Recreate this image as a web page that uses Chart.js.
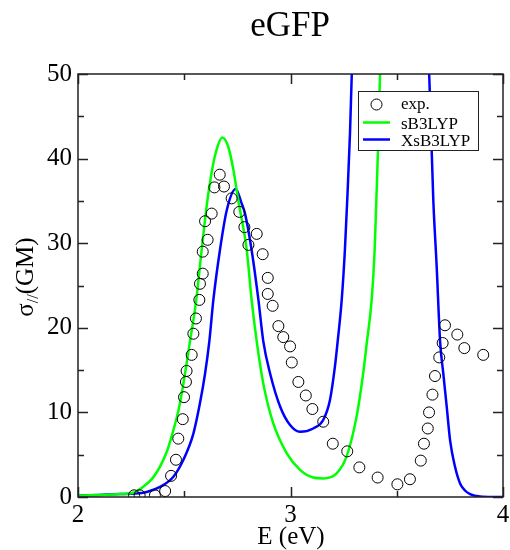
<!DOCTYPE html>
<html>
<head>
<meta charset="utf-8">
<script src="https://cdn.jsdelivr.net/npm/chart.js@4.4.1/dist/chart.umd.min.js"></script>
<style>
  html, body { margin: 0; padding: 0; background: #fff; }
  #wrap { width: 510px; height: 550px; }
</style>
</head>
<body>
<div id="wrap"><canvas id="c" width="510" height="550"></canvas></div>
<script>
// experimental points (E in eV, sigma in GM)
const expE = [2.264, 2.29, 2.362, 2.41, 2.438, 2.461, 2.472, 2.493, 2.499, 2.508, 2.511, 2.535,
  2.543, 2.555, 2.571, 2.574, 2.587, 2.587, 2.598, 2.610, 2.629, 2.642, 2.667, 2.687, 2.723,
  2.759, 2.783, 2.802, 2.841, 2.869, 2.893, 2.893, 2.916, 2.943, 2.966, 2.998, 3.006, 3.037,
  3.072, 3.103, 3.154, 3.199, 3.267, 3.324, 3.410, 3.503, 3.562, 3.613, 3.628, 3.646, 3.652,
  3.668, 3.680, 3.700, 3.716, 3.727, 3.785, 3.818, 3.907];
const expS = [0.2, 0.2, 0.2, 0.7, 2.5, 4.4, 6.9, 9.2, 11.8, 13.6, 14.9, 16.8,
  19.3, 21.1, 23.3, 25.2, 26.4, 29.0, 32.6, 30.4, 33.5, 36.6, 38.1, 36.7, 35.3,
  33.7, 31.9, 29.8, 31.1, 28.7, 25.9, 24.0, 22.6, 20.2, 18.9, 17.8, 15.9, 13.6,
  12.0, 10.4, 8.9, 6.3, 5.4, 3.5, 2.3, 1.5, 2.1, 4.3, 6.3, 8.1, 10.0,
  12.1, 14.3, 16.5, 18.2, 20.3, 19.2, 17.6, 16.8];

// sB3LYP curve
const sE = [2.0, 2.1, 2.2, 2.26, 2.307, 2.35, 2.386, 2.42, 2.449, 2.475, 2.496, 2.527, 2.555,
  2.582, 2.606, 2.632, 2.655, 2.679, 2.707, 2.731, 2.754, 2.794, 2.817, 2.841, 2.872, 2.919,
  2.982, 3.045, 3.107, 3.154, 3.217, 3.264, 3.311, 3.342, 3.358, 3.382, 3.396, 3.404, 3.413,
  3.421, 3.43, 3.45, 3.5, 3.6, 3.7, 3.8, 3.9, 4.0];
const sS = [0.15, 0.25, 0.35, 0.5, 1.2, 2.2, 3.6, 5.5, 7.9, 10.5, 13.4, 18.4, 23.0,
  29.2, 34.5, 38.8, 41.3, 42.5, 41.4, 38.7, 35.1, 29.2, 23.3, 18.4, 13.4, 8.7,
  5.2, 3.2, 2.3, 2.2, 2.8, 4.8, 9.5, 14.6, 18.0, 23.3, 29.2, 35.1, 42.0,
  49.7, 58, 75, 110, 150, 150, 130, 110, 90];

// XsB3LYP curve
const xsE = [2.0, 2.1, 2.2, 2.27, 2.323, 2.386, 2.449, 2.496, 2.543, 2.574, 2.598, 2.618, 2.637,
  2.668, 2.700, 2.742, 2.770, 2.786, 2.817, 2.849, 2.872, 2.904, 2.951, 2.998, 3.045, 3.107,
  3.154, 3.186, 3.209, 3.222, 3.241, 3.256, 3.267, 3.280, 3.288, 3.30, 3.35, 3.45, 3.55,
  3.62, 3.653, 3.672, 3.688, 3.704, 3.719, 3.735, 3.751, 3.774, 3.798, 3.82, 3.845, 3.892,
  3.95, 4.0];
const xsS = [0.15, 0.25, 0.35, 0.4, 0.6, 1.2, 2.4, 4.4, 7.5, 11.1, 14.6, 18.4, 23.3,
  29.2, 33.9, 36.4, 34.7, 33.5, 29.2, 23.3, 18.4, 14.6, 10.7, 8.5, 7.7, 8.1,
  9.1, 11.5, 15.4, 18.4, 23.3, 29.2, 35.1, 43.0, 49.7, 58, 85, 110, 95,
  65, 49.7, 35.1, 27.2, 18.4, 14.6, 10.7, 6.7, 3.6, 1.6, 0.8, 0.35, 0.05,
  0, 0];

const yTicks = [0, 10, 20, 30, 40, 50];
const xTicks = [2, 3, 4];

const SERIF = "'Liberation Serif', 'Times New Roman', serif";
const FRAME = '#222';

function pts(xs, ys) {
  return xs.map((x, i) => ({ x: x, y: ys[i] }));
}

// frame, inner ticks, title, axis titles and legend
const decorations = {
  id: 'decorations',
  afterDraw(chart) {
    const ctx = chart.ctx;
    const a = chart.chartArea;
    const xs = chart.scales.x;
    const ys = chart.scales.y;
    ctx.save();
    ctx.strokeStyle = FRAME;
    ctx.lineWidth = 1.5;
    ctx.strokeRect(a.left, a.top, a.right - a.left, a.bottom - a.top);

    // ticks, pointing inward on all four sides
    ctx.beginPath();
    for (let v = 2; v <= 4.001; v += 0.5) {
      const px = Math.round(xs.getPixelForValue(v)) + 0.5;
      const len = Math.abs(v - Math.round(v)) < 0.01 ? 10 : 6;
      ctx.moveTo(px, a.bottom); ctx.lineTo(px, a.bottom - len);
      ctx.moveTo(px, a.top); ctx.lineTo(px, a.top + len);
    }
    for (let v = 0; v <= 50; v += 5) {
      const py = Math.round(ys.getPixelForValue(v)) + 0.5;
      const len = v % 10 === 0 ? 10 : 6;
      ctx.moveTo(a.left, py); ctx.lineTo(a.left + len, py);
      ctx.moveTo(a.right, py); ctx.lineTo(a.right - len, py);
    }
    ctx.stroke();

    // title
    ctx.fillStyle = '#000';
    ctx.font = '35px ' + SERIF;
    ctx.textAlign = 'center';
    ctx.textBaseline = 'alphabetic';
    ctx.fillText('eGFP', 290, 36);

    // x axis title
    ctx.font = '25px ' + SERIF;
    ctx.fillText('E (eV)', 291, 544);

    // y axis title with subscript
    ctx.save();
    ctx.translate(33, 277);
    ctx.rotate(-Math.PI / 2);
    ctx.textAlign = 'left';
    const big = '25px ' + SERIF;
    const small = '16px ' + SERIF;
    ctx.font = big;
    const w1 = ctx.measureText('\u03c3').width;
    const w3 = ctx.measureText('(GM)').width;
    ctx.font = small;
    const w2 = ctx.measureText('//').width;
    let x0 = -(w1 + w2 + w3) / 2;
    ctx.font = big;
    ctx.fillText('\u03c3', x0, 0);
    ctx.font = small;
    ctx.fillText('//', x0 + w1, 5);
    ctx.font = big;
    ctx.fillText('(GM)', x0 + w1 + w2, 0);
    ctx.restore();

    // legend
    ctx.fillStyle = '#fff';
    ctx.fillRect(358.5, 91.5, 120, 59);
    ctx.strokeStyle = FRAME;
    ctx.lineWidth = 1;
    ctx.strokeRect(358.5, 91.5, 120, 59);
    ctx.fillStyle = '#000';
    ctx.font = '17px ' + SERIF;
    ctx.textAlign = 'left';
    ctx.textBaseline = 'alphabetic';
    ctx.beginPath();
    ctx.arc(376.5, 104.5, 5.5, 0, Math.PI * 2);
    ctx.strokeStyle = '#000';
    ctx.lineWidth = 1;
    ctx.stroke();
    ctx.fillText('exp.', 401, 109);
    ctx.lineWidth = 2.5;
    ctx.strokeStyle = '#00ff00';
    ctx.beginPath(); ctx.moveTo(363, 122.5); ctx.lineTo(390, 122.5); ctx.stroke();
    ctx.fillText('sB3LYP', 401, 129);
    ctx.strokeStyle = '#0000ff';
    ctx.beginPath(); ctx.moveTo(363, 139.5); ctx.lineTo(390, 139.5); ctx.stroke();
    ctx.fillText('XsB3LYP', 401, 146);
    ctx.restore();
  }
};

new Chart(document.getElementById('c'), {
  type: 'scatter',
  data: {
    datasets: [{
      label: 'exp.',
      data: pts(expE, expS),
      showLine: false,
      pointStyle: 'circle',
      pointRadius: 5.5,
      pointBorderWidth: 1,
      borderColor: '#000',
      backgroundColor: 'rgba(0,0,0,0)'
    }, {
      label: 'sB3LYP',
      data: pts(sE, sS),
      showLine: true,
      borderColor: '#00ff00',
      borderWidth: 2.5,
      pointRadius: 0,
      cubicInterpolationMode: 'monotone'
    }, {
      label: 'XsB3LYP',
      data: pts(xsE, xsS),
      showLine: true,
      borderColor: '#0000ff',
      borderWidth: 2.5,
      pointRadius: 0,
      cubicInterpolationMode: 'monotone'
    }]
  },
  options: {
    responsive: false,
    animation: false,
    layout: { padding: { top: 74, right: 7, left: 0, bottom: 0 } },
    plugins: {
      legend: { display: false },
      tooltip: { enabled: false }
    },
    scales: {
      x: {
        type: 'linear',
        min: 2,
        max: 4,
        afterFit: s => { s.height = 53; s.paddingLeft = 0; s.paddingRight = 0; },
        afterBuildTicks: s => { s.ticks = xTicks.map(v => ({ value: v })); },
        grid: { display: false, drawTicks: false },
        border: { display: false },
        ticks: { padding: 3, color: '#000', font: { family: SERIF, size: 25 }, maxRotation: 0 }
      },
      y: {
        min: 0,
        max: 50,
        afterFit: s => { s.width = 78; s.paddingTop = 0; s.paddingBottom = 0; },
        afterBuildTicks: s => { s.ticks = yTicks.map(v => ({ value: v })); },
        grid: { display: false, drawTicks: false },
        border: { display: false },
        ticks: { padding: 6, color: '#000', font: { family: SERIF, size: 25 } }
      }
    }
  },
  plugins: [decorations]
});
</script>
</body>
</html>
